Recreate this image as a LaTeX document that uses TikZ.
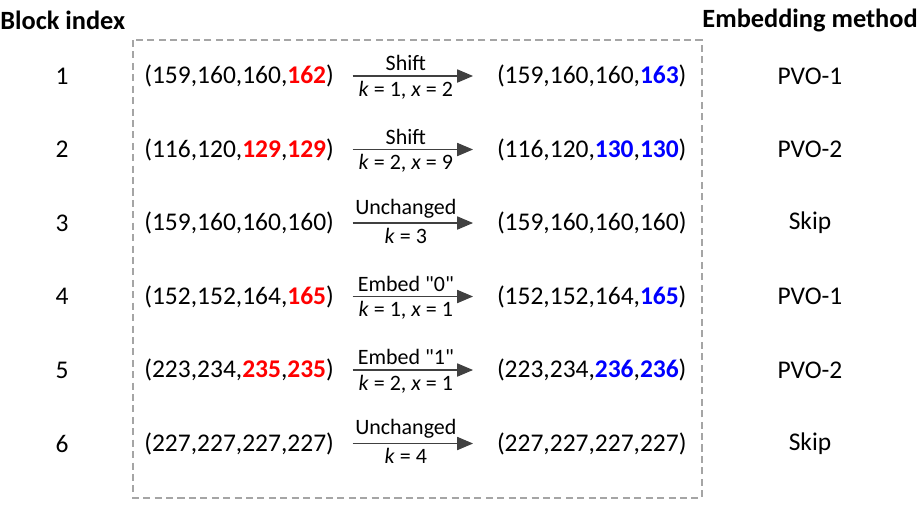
\documentclass[tikz,border=0pt]{standalone}
\usepackage{fontspec}
\setmainfont{Carlito}
\usetikzlibrary{positioning,arrows.meta}
\definecolor{colOld}{RGB}{255,0,0}
\definecolor{colNew}{RGB}{0,0,255}
\definecolor{colArrow}{RGB}{64,64,64}
\definecolor{colFrame}{RGB}{165,165,165}
\newcommand{\oldv}[1]{\textcolor{colOld}{\textbf{#1}}}
\newcommand{\newv}[1]{\textcolor{colNew}{\textbf{#1}}}

\begin{document}
\begin{tikzpicture}[x=0.02cm, y=-0.02cm,
    every node/.style={font=\fontsize{14.5}{17}\selectfont},
    head/.style={font=\fontsize{15}{17}\selectfont\bfseries, inner sep=0pt},
    before/.style={anchor=west, inner sep=0pt, text width=4.16cm, align=left},
    after/.style={anchor=west, inner sep=0pt, outer xsep=0.48cm},
    flow/.style={draw=colArrow, line width=0.6pt, -{Triangle[length=9pt,width=7.5pt]}},
    lbl/.style={font=\fontsize{12.5}{14}\selectfont, inner sep=2.5pt, xshift=-0.14cm}
]
    \useasboundingbox (0,0) rectangle (918,505);

    % column headers
    \node[head, anchor=west] (hIdx) at (0,20) {Block index};
    \node[head, anchor=east] (hMet) at (918,20) {Embedding method};

    % dashed frame round the pixel blocks
    \draw[colFrame, line width=0.6pt, dash pattern=on 4pt off 2.5pt] (133,40) rectangle (702,498);

    % block index
    \node (I1) at (62,76) {1};
    \node (I2) at (62,149.5) {2};
    \node (I3) at (62,223) {3};
    \node (I4) at (62,296.5) {4};
    \node (I5) at (62,370) {5};
    \node (I6) at (62,443.5) {6};

    % pixel values before embedding
    \node[before] (L1) at (144,76) {(159,160,160,\oldv{162})};
    \node[before] (L2) at (144,149.5) {(116,120,\oldv{129},\oldv{129})};
    \node[before] (L3) at (144,223) {(159,160,160,160)};
    \node[before] (L4) at (144,296.5) {(152,152,164,\oldv{165})};
    \node[before] (L5) at (144,370) {(223,234,\oldv{235},\oldv{235})};
    \node[before] (L6) at (144,443.5) {(227,227,227,227)};

    % pixel values after embedding
    \node[after] (R1) at (473,76) {(159,160,160,\newv{163})};
    \node[after] (R2) at (473,149.5) {(116,120,\newv{130},\newv{130})};
    \node[after] (R3) at (473,223) {(159,160,160,160)};
    \node[after] (R4) at (473,296.5) {(152,152,164,\newv{165})};
    \node[after] (R5) at (473,370) {(223,234,\newv{236},\newv{236})};
    \node[after] (R6) at (473,443.5) {(227,227,227,227)};

    % operations
    \draw[flow] (L1.east) -- node[lbl, above]{Shift} node[lbl, below]{\textit{k} = 1, \textit{x} = 2} (R1.west);
    \draw[flow] (L2.east) -- node[lbl, above]{Shift} node[lbl, below]{\textit{k} = 2, \textit{x} = 9} (R2.west);
    \draw[flow] (L3.east) -- node[lbl, above]{Unchanged} node[lbl, below]{\textit{k} = 3} (R3.west);
    \draw[flow] (L4.east) -- node[lbl, above]{Embed \textquotedbl 0\textquotedbl} node[lbl, below]{\textit{k} = 1, \textit{x} = 1} (R4.west);
    \draw[flow] (L5.east) -- node[lbl, above]{Embed \textquotedbl 1\textquotedbl} node[lbl, below]{\textit{k} = 2, \textit{x} = 1} (R5.west);
    \draw[flow] (L6.east) -- node[lbl, above]{Unchanged} node[lbl, below]{\textit{k} = 4} (R6.west);

    % embedding method
    \node (M1) at (810,76) {PVO-1};
    \node (M2) at (810,149.5) {PVO-2};
    \node (M3) at (810,223) {Skip};
    \node (M4) at (810,296.5) {PVO-1};
    \node (M5) at (810,370) {PVO-2};
    \node (M6) at (810,443.5) {Skip};
\end{tikzpicture}
\end{document}
